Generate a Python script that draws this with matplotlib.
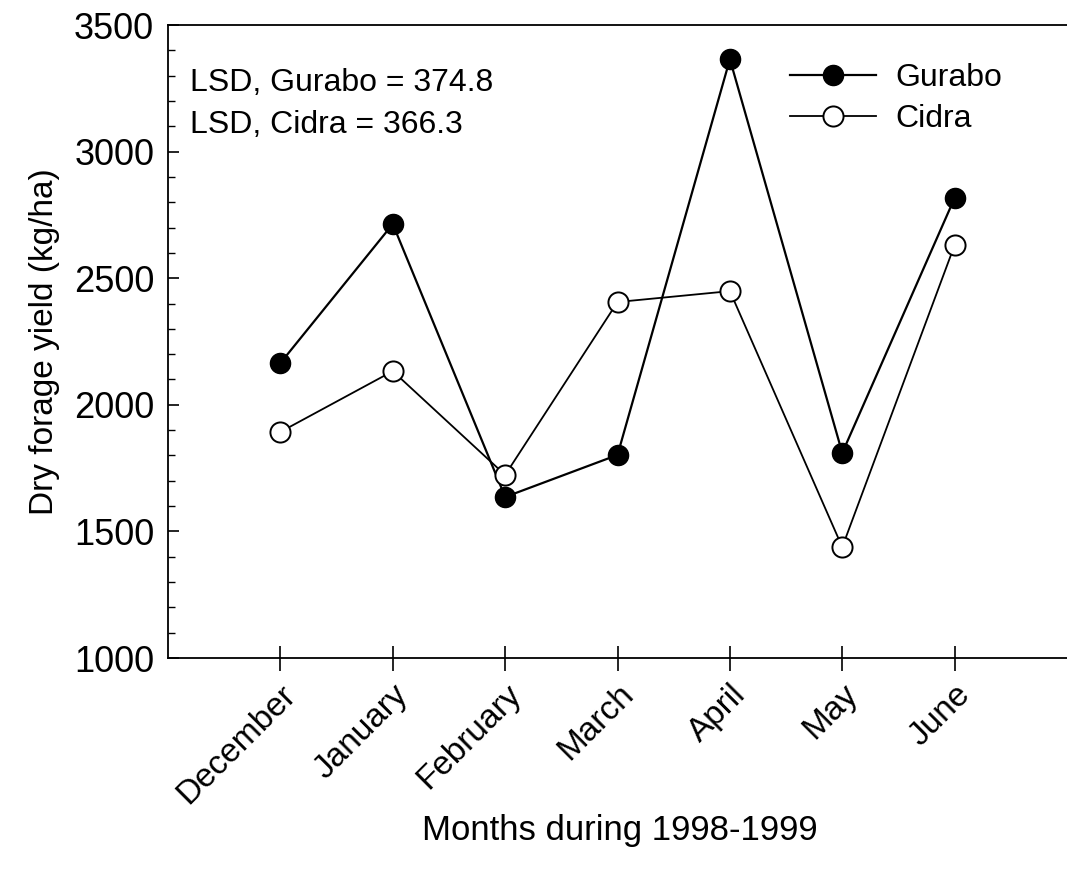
import numpy as np
import matplotlib
matplotlib.use("Agg")
import matplotlib.pyplot as plt
from matplotlib.ticker import MultipleLocator

# === Data ===
months = ["December", "January", "February", "March", "April", "May", "June"]
gurabo = [2165, 2714, 1636, 1802, 3365, 1810, 2817]
cidra  = [1893, 2133, 1723, 2406, 2449, 1438, 2631]

plt.rcParams['font.family'] = ['Liberation Sans', 'DejaVu Sans']

fig = plt.figure(figsize=(10.67, 8.69), dpi=100)
ax = fig.add_axes([0.1575, 0.2428, 0.8425, 0.7284])

x = np.arange(len(months))
ax.plot(x, gurabo, color='black', lw=1.6, marker='o', ms=14.5,
        mfc='black', mec='black', label='Gurabo')
ax.plot(x, cidra, color='black', lw=1.3, marker='o', ms=14.5,
        mfc='white', mec='black', mew=1.4, label='Cidra')

ax.set_xlim(-1, 7)
ax.set_ylim(1000, 3500)
ax.set_xticks(x)
ax.set_xticklabels(months, rotation=45, ha='right', rotation_mode='anchor',
                   fontsize=24)
ax.yaxis.set_major_locator(MultipleLocator(500))
ax.yaxis.set_minor_locator(MultipleLocator(100))
ax.tick_params(axis='y', which='major', direction='in', length=8, width=1.2,
               labelsize=26, pad=10)
ax.tick_params(axis='y', which='minor', direction='in', length=5, width=1)
ax.tick_params(axis='x', direction='inout', length=18, width=1.2, pad=6)

ax.spines['right'].set_visible(False)
for s in ['left', 'bottom', 'top']:
    ax.spines[s].set_linewidth(1.3)

ax.set_ylabel("Dry forage yield (kg/ha)", fontsize=24, labelpad=10)
ax.set_xlabel("Months during 1998-1999", fontsize=25, va='center')
ax.xaxis.set_label_coords(0.503, -0.272)

ax.text(0.024, 0.908, "LSD, Gurabo = 374.8", transform=ax.transAxes,
        fontsize=23, va='center', ha='left')
ax.text(0.024, 0.842, "LSD, Cidra = 366.3", transform=ax.transAxes,
        fontsize=23, va='center', ha='left')

ax.legend(frameon=False, loc='upper left', bbox_to_anchor=(0.66, 0.985),
          fontsize=23, handlelength=2.7, handletextpad=0.6, labelspacing=0.35)

fig.savefig("out.png", dpi=100)
